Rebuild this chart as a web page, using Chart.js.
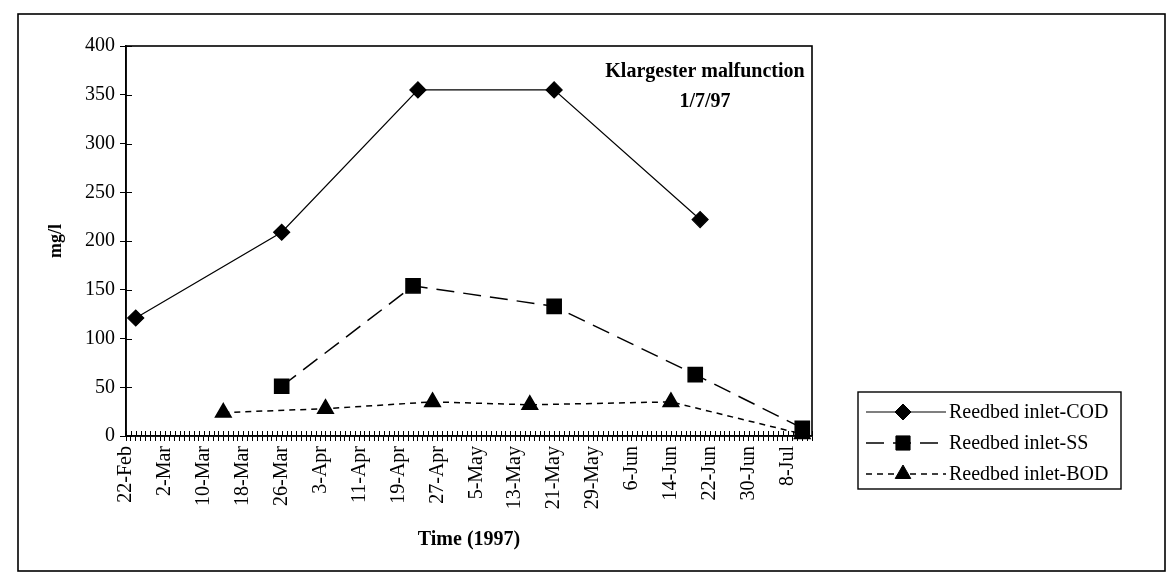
<!DOCTYPE html>
<html>
<head>
<meta charset="utf-8">
<script src="https://cdn.jsdelivr.net/npm/chart.js@4/dist/chart.umd.min.js"></script>
<style>
  html, body { margin: 0; padding: 0; background: #fff; }
  #wrap { width: 1172px; height: 585px; }
</style>
</head>
<body>
<div id="wrap"><canvas id="reedChart" width="1172" height="585"></canvas></div>
<script>
// dati (1997)
const startDate = '1997-02-22';
const xTickLabels = ['22-Feb', '2-Mar', '10-Mar', '18-Mar', '26-Mar', '3-Apr', '11-Apr', '19-Apr', '27-Apr',
    '5-May', '13-May', '21-May', '29-May', '6-Jun', '14-Jun', '22-Jun', '30-Jun', '8-Jul'];
const yTicks = [0, 50, 100, 150, 200, 250, 300, 350, 400];

const codDates = ['1997-02-24', '1997-03-26', '1997-04-23', '1997-05-21', '1997-06-20'];
const codValues = [121, 209, 355, 355, 222];

const ssDates = ['1997-03-26', '1997-04-22', '1997-05-21', '1997-06-19', '1997-07-11'];
const ssValues = [51, 154, 133, 63, 8];

const bodDates = ['1997-03-14', '1997-04-04', '1997-04-26', '1997-05-16', '1997-06-14', '1997-07-11'];
const bodValues = [24, 28, 35, 32, 35, 2];

const seriesLabels = ['Reedbed inlet-COD', 'Reedbed inlet-SS', 'Reedbed inlet-BOD'];
const noteLines = ['Klargester malfunction', '1/7/97'];

const FONT = "'Liberation Serif', 'Times New Roman', serif";

// giorni dall'inizio dell'asse
function dayOf(s) {
    return Math.round((Date.parse(s) - Date.parse(startDate)) / 86400000);
}
function toPoints(dates, values) {
    return dates.map((d, i) => ({ x: dayOf(d), y: values[i] }));
}

// cornice esterna, bordo area del grafico, tacche incrociate, nota
const decorPlugin = {
    id: 'decor',
    afterDraw(chart) {
        const ctx = chart.ctx;
        const a = chart.chartArea;
        const xs = chart.scales.x;
        const ys = chart.scales.y;
        ctx.save();
        ctx.strokeStyle = '#000';

        ctx.lineWidth = 1.6;
        ctx.strokeRect(18, 14, 1147, 557);

        ctx.lineWidth = 1.6;
        ctx.strokeRect(a.left, a.top, a.right - a.left, a.bottom - a.top);

        // parte interna delle tacche
        ctx.lineWidth = 1;
        ctx.beginPath();
        xs.ticks.forEach(t => {
            const px = Math.round(xs.getPixelForValue(t.value)) + 0.5;
            ctx.moveTo(px, a.bottom);
            ctx.lineTo(px, a.bottom - 5);
        });
        ys.ticks.forEach(t => {
            const py = Math.round(ys.getPixelForValue(t.value)) + 0.5;
            ctx.moveTo(a.left, py);
            ctx.lineTo(a.left + 6, py);
        });
        ctx.stroke();

        // nota
        ctx.fillStyle = '#000';
        ctx.font = 'bold 20px ' + FONT;
        ctx.textAlign = 'center';
        ctx.textBaseline = 'middle';
        const cx = a.right - 107;
        ctx.fillText(noteLines[0], cx, a.top + 26);
        ctx.fillText(noteLines[1], cx, a.top + 56);
        ctx.restore();
    }
};

function drawMarker(ctx, style, r, x, y) {
    if (Chart.helpers && Chart.helpers.drawPoint) {
        Chart.helpers.drawPoint(ctx, { pointStyle: style, radius: r, rotation: 0, borderWidth: 1 }, x, y);
        return;
    }
    ctx.beginPath();
    if (style === 'rectRot') {
        ctx.moveTo(x, y - r); ctx.lineTo(x + r, y); ctx.lineTo(x, y + r); ctx.lineTo(x - r, y);
    } else if (style === 'rect') {
        const s = r * Math.SQRT1_2;
        ctx.rect(x - s, y - s, 2 * s, 2 * s);
    } else {
        ctx.moveTo(x, y - r); ctx.lineTo(x + r * 0.866, y + r / 2); ctx.lineTo(x - r * 0.866, y + r / 2);
    }
    ctx.closePath();
    ctx.fill();
    ctx.stroke();
}

// legenda nel riquadro a destra
const legendBoxPlugin = {
    id: 'legendBox',
    afterDraw(chart) {
        const ctx = chart.ctx;
        const box = { x: 858, y: 392, w: 263, h: 97 };
        const rows = [412, 443, 474];
        ctx.save();
        ctx.strokeStyle = '#000';
        ctx.lineWidth = 1.4;
        ctx.strokeRect(box.x, box.y, box.w, box.h);
        chart.data.datasets.forEach((ds, i) => {
            const y = rows[i];
            ctx.strokeStyle = ds.borderColor;
            ctx.fillStyle = ds.pointBackgroundColor;
            ctx.lineWidth = ds.borderWidth;
            ctx.setLineDash(ds.borderDash || []);
            ctx.beginPath();
            ctx.moveTo(866, y);
            ctx.lineTo(946, y);
            ctx.stroke();
            ctx.setLineDash([]);
            ctx.lineWidth = 1;
            drawMarker(ctx, ds.pointStyle, ds.pointRadius, 903, y);
            ctx.fillStyle = '#000';
            ctx.font = '20px ' + FONT;
            ctx.textAlign = 'left';
            ctx.textBaseline = 'middle';
            ctx.fillText(ds.label, 949, y + 1);
        });
        ctx.restore();
    }
};

const ctx = document.getElementById('reedChart').getContext('2d');
const reedChart = new Chart(ctx, {
    type: 'line',
    data: {
        datasets: [
            {
                label: seriesLabels[0],
                data: toPoints(codDates, codValues),
                borderColor: '#000',
                backgroundColor: '#000',
                borderWidth: 1.2,
                pointStyle: 'rectRot',
                pointRadius: 8,
                pointBackgroundColor: '#000',
                pointBorderColor: '#000',
                tension: 0,
                clip: false
            },
            {
                label: seriesLabels[1],
                data: toPoints(ssDates, ssValues),
                borderColor: '#000',
                backgroundColor: '#000',
                borderWidth: 1.5,
                borderDash: [18, 9],
                pointStyle: 'rect',
                pointRadius: 10,
                pointBackgroundColor: '#000',
                pointBorderColor: '#000',
                tension: 0,
                clip: false
            },
            {
                label: seriesLabels[2],
                data: toPoints(bodDates, bodValues),
                borderColor: '#000',
                backgroundColor: '#000',
                borderWidth: 1.5,
                borderDash: [6, 5],
                pointStyle: 'triangle',
                pointRadius: 9,
                pointBackgroundColor: '#000',
                pointBorderColor: '#000',
                tension: 0,
                clip: false
            }
        ]
    },
    options: {
        responsive: false,
        animation: false,
        devicePixelRatio: 1,
        layout: { padding: { top: 46, right: 360, left: 0, bottom: 0 } },
        plugins: {
            legend: { display: false },
            tooltip: { enabled: false }
        },
        scales: {
            x: {
                type: 'linear',
                min: 0,
                max: 141,
                afterFit(scale) { scale.height = 149; },
                grid: { drawOnChartArea: false, color: '#000', tickLength: 5, lineWidth: 1 },
                border: { display: true, color: '#000', width: 1.6 },
                ticks: {
                    stepSize: 1,
                    autoSkip: false,
                    minRotation: 90,
                    maxRotation: 90,
                    padding: 5,
                    color: '#000',
                    font: { family: FONT, size: 20 },
                    callback: v => (v % 8 === 0 && xTickLabels[v / 8]) ? xTickLabels[v / 8] : ''
                },
                title: {
                    display: true,
                    text: 'Time (1997)',
                    color: '#000',
                    font: { family: FONT, size: 20, weight: 'bold' },
                    padding: { top: 4, bottom: 33 }
                }
            },
            y: {
                min: 0,
                max: 400,
                afterFit(scale) { scale.width = 126; },
                afterBuildTicks(scale) { scale.ticks = yTicks.map(v => ({ value: v })); },
                grid: { drawOnChartArea: false, color: '#000', tickLength: 6, lineWidth: 1 },
                border: { display: true, color: '#000', width: 1.6 },
                ticks: {
                    padding: 5,
                    color: '#000',
                    font: { family: FONT, size: 20 }
                },
                title: {
                    display: true,
                    text: 'mg/l',
                    color: '#000',
                    font: { family: FONT, size: 18, weight: 'bold' },
                    padding: { top: 46, bottom: 0 }
                }
            }
        }
    },
    plugins: [decorPlugin, legendBoxPlugin]
});
</script>
</body>
</html>
